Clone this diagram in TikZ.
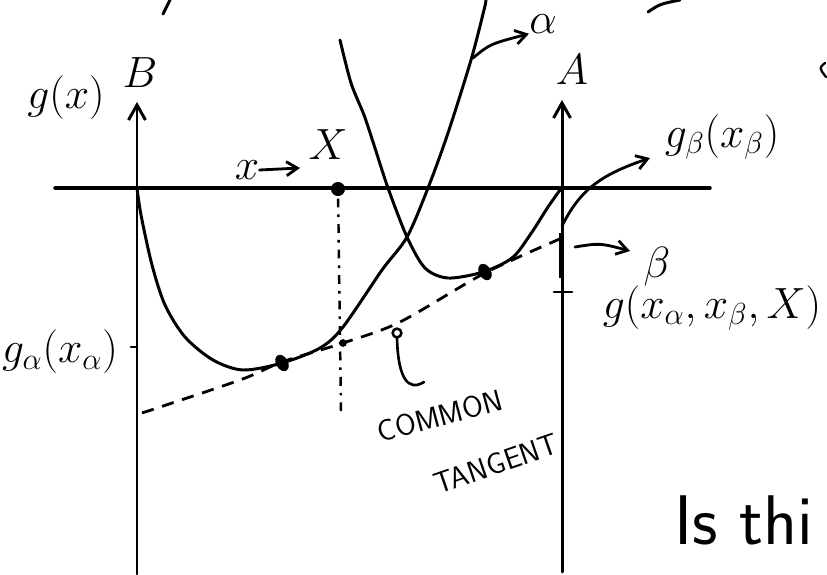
\documentclass[tikz,border=0pt]{standalone}
\usepackage{amsmath}
\usetikzlibrary{arrows.meta,positioning}

\begin{document}
\begin{tikzpicture}[x=0.02cm,y=-0.02cm,
 pen/.style={line width=1.7pt,line cap=round,line join=round},
 axisarrow/.style={pen,-{Straight Barb[length=3mm,width=3.4mm]}},
 lead/.style={line width=1.6pt,line cap=round,-{Straight Barb[length=2.2mm,width=2.8mm]}},
 tang/.style={line width=1.6pt,dash pattern=on 7pt off 5pt},
 guide/.style={line width=1.4pt,dash pattern=on 1.5pt off 4pt on 5pt off 4pt},
 lbl/.style={inner sep=0pt,font=\fontsize{26}{30}\selectfont},
 caps/.style={inner sep=0pt,font=\sffamily\fontsize{17}{20}\selectfont}]
\useasboundingbox (0,0) rectangle (827,574);
\clip (0,0) rectangle (827,574);

% axes
\coordinate (Xpt) at (338,189);
\draw[pen,line width=2pt] (55,188) -- (710,188);
\draw[axisarrow] (137,574) -- (137,102);
\draw[axisarrow] (562,572) -- (562,100);
\draw[line width=2.6pt] (561,233) -- (561,278);
\draw[pen] (554,292) -- (572,292);
\draw[pen] (131,347) -- (137,347);

% free energy curves
\draw[pen] plot[smooth] coordinates {(137,188) (141,215) (152,265) (165,305)
 (185,337) (213,360) (243,370) (282,363) (320,348) (343,327) (382,270)
 (407,237) (428,188) (448,133) (471,60) (484,10) (486,0)};
\draw[pen] plot[smooth] coordinates {(340,40) (351,83) (364,115) (374,145)
 (388,188) (407,237) (425,268) (448,278) (483,272) (512,258) (530,235)
 (548,207) (560,190)};

% common tangent and X
\draw[tang] plot[smooth] coordinates {(142,413) (240,380) (282,362) (343,343)
 (400,322) (485,273) (562,238)};
\draw[guide] (Xpt) -- (341,412);
\fill (Xpt) circle (4pt);
\fill (343,343) circle (2.2pt);
\fill[rotate around={30:(282,363)}] (282,363) ellipse (3.4pt and 5pt);
\fill[rotate around={30:(485,272)}] (485,272) ellipse (3.4pt and 5pt);
\draw[line width=1.4pt] (397,333) circle (2.5pt);
\draw[pen,line width=1.5pt] (397,338) .. controls (398,378) and (408,392) .. (424,382);

% labels
\node[lbl,font=\fontsize{30}{34}\selectfont] (gx) at (66,98) {$g(x)$};
\node[lbl] (B) at (140,73) {$B$};
\node[lbl] (A) at (572,70) {$A$};
\node[lbl] (alpha) at (543,24) {$\alpha$};
\node[lbl,font=\fontsize{24}{28}\selectfont] (Xlbl) at (328,145) {$X$};
\node[lbl,font=\fontsize{24}{28}\selectfont] (xsym) at (247,170) {$x$};
\node[lbl,font=\fontsize{24}{28}\selectfont] (gb) at (722,137) {$g_\beta(x_\beta)$};
\node[lbl] (beta) at (657,267) {$\beta$};
\node[lbl,font=\fontsize{24}{28}\selectfont] (gmix) at (712,308) {$g(x_\alpha,x_\beta,X)$};
\node[lbl,font=\fontsize{25}{28}\selectfont] (ga) at (60,352) {$g_\alpha(x_\alpha)$};
\node[caps,rotate=15] (common) at (440,416) {COMMON};
\node[caps,rotate=19] (tangent) at (496,464) {TANGENT};
\node[inner sep=0pt,anchor=west,font=\sffamily\fontsize{40}{46}\selectfont] (isthis) at (674,520) {Is thi};

% pointers
\coordinate (acurve) at (473,58);
\coordinate (xend) at (300,168);
\coordinate (gbstart) at (562,226);
\coordinate (gbend) at (650,158);
\coordinate (bstart) at (575,247);
\coordinate (bend) at (630,251);
\draw[lead] (acurve) .. controls (490,44) .. (alpha.south west);
\draw[lead] (xsym.east) -- (xend);
\draw[lead] (gbstart) .. controls (580,190) and (600,175) .. (gbend);
\draw[lead] (bstart) .. controls (600,243) .. (bend);

% edge fragments
\draw[pen] (163,14) -- (170,0);
\draw[pen] (648,12) .. controls (660,4) .. (680,0);
\draw[pen,line width=1.3pt] (825,63) .. controls (819,68) .. (826,77);
\end{tikzpicture}
\end{document}
